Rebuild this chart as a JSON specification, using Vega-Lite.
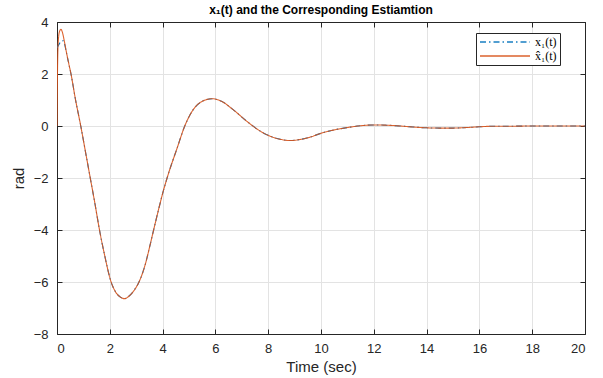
{
  "$schema": "https://vega.github.io/schema/vega-lite/v6.json",
  "autosize": "none",
  "width": 528,
  "height": 312,
  "padding": {"left": 57, "top": 22, "right": 18, "bottom": 44},
  "background": "white",
  "title": {
    "text": "x₁(t) and the Corresponding Estiamtion",
    "font": "Liberation Sans",
    "fontSize": 12,
    "fontWeight": "bold",
    "color": "#000000",
    "offset": -1
  },
  "config": {
    "view": {"stroke": "#262626", "strokeWidth": 1},
    "axis": {
      "domainColor": "#262626",
      "tickColor": "#262626",
      "gridColor": "#e3e3e3",
      "gridOpacity": 1,
      "labelFont": "Liberation Sans",
      "labelFontSize": 13,
      "labelColor": "#262626",
      "titleFont": "Liberation Sans",
      "titleFontSize": 15,
      "titleFontWeight": "normal",
      "titleColor": "#262626",
      "tickSize": -5
    }
  },
  "data": {
    "values": [
      {"t": 0, "v": 3.0, "s": "x₁(t)"},
      {"t": 0.08, "v": 3.15, "s": "x₁(t)"},
      {"t": 0.16, "v": 3.25, "s": "x₁(t)"},
      {"t": 0.24, "v": 3.28, "s": "x₁(t)"},
      {"t": 0.3, "v": 3.1, "s": "x₁(t)"},
      {"t": 0.36, "v": 2.8, "s": "x₁(t)"},
      {"t": 0.45, "v": 2.38, "s": "x₁(t)"},
      {"t": 0.53, "v": 2.0, "s": "x₁(t)"},
      {"t": 0.7, "v": 1.02, "s": "x₁(t)"},
      {"t": 0.9, "v": 0, "s": "x₁(t)"},
      {"t": 1.08, "v": -1.0, "s": "x₁(t)"},
      {"t": 1.26, "v": -2.0, "s": "x₁(t)"},
      {"t": 1.44, "v": -3.0, "s": "x₁(t)"},
      {"t": 1.61, "v": -4.0, "s": "x₁(t)"},
      {"t": 1.8, "v": -4.95, "s": "x₁(t)"},
      {"t": 2.05, "v": -6.0, "s": "x₁(t)"},
      {"t": 2.2, "v": -6.35, "s": "x₁(t)"},
      {"t": 2.4, "v": -6.58, "s": "x₁(t)"},
      {"t": 2.56, "v": -6.64, "s": "x₁(t)"},
      {"t": 2.72, "v": -6.55, "s": "x₁(t)"},
      {"t": 2.9, "v": -6.35, "s": "x₁(t)"},
      {"t": 3.15, "v": -5.9, "s": "x₁(t)"},
      {"t": 3.35, "v": -5.3, "s": "x₁(t)"},
      {"t": 3.52, "v": -4.6, "s": "x₁(t)"},
      {"t": 3.66, "v": -4.0, "s": "x₁(t)"},
      {"t": 3.85, "v": -3.2, "s": "x₁(t)"},
      {"t": 4.0, "v": -2.6, "s": "x₁(t)"},
      {"t": 4.17, "v": -2.0, "s": "x₁(t)"},
      {"t": 4.55, "v": -0.85, "s": "x₁(t)"},
      {"t": 4.84, "v": 0, "s": "x₁(t)"},
      {"t": 5.16, "v": 0.63, "s": "x₁(t)"},
      {"t": 5.54, "v": 0.97, "s": "x₁(t)"},
      {"t": 5.88, "v": 1.05, "s": "x₁(t)"},
      {"t": 6.23, "v": 0.95, "s": "x₁(t)"},
      {"t": 6.67, "v": 0.63, "s": "x₁(t)"},
      {"t": 7.18, "v": 0.19, "s": "x₁(t)"},
      {"t": 7.69, "v": -0.19, "s": "x₁(t)"},
      {"t": 8.0, "v": -0.36, "s": "x₁(t)"},
      {"t": 8.5, "v": -0.52, "s": "x₁(t)"},
      {"t": 8.82, "v": -0.56, "s": "x₁(t)"},
      {"t": 9.2, "v": -0.52, "s": "x₁(t)"},
      {"t": 9.58, "v": -0.43, "s": "x₁(t)"},
      {"t": 10, "v": -0.28, "s": "x₁(t)"},
      {"t": 10.5, "v": -0.15, "s": "x₁(t)"},
      {"t": 11, "v": -0.06, "s": "x₁(t)"},
      {"t": 11.5, "v": 0.01, "s": "x₁(t)"},
      {"t": 12, "v": 0.04, "s": "x₁(t)"},
      {"t": 12.5, "v": 0.03, "s": "x₁(t)"},
      {"t": 13, "v": 0, "s": "x₁(t)"},
      {"t": 13.5, "v": -0.04, "s": "x₁(t)"},
      {"t": 14, "v": -0.07, "s": "x₁(t)"},
      {"t": 14.5, "v": -0.08, "s": "x₁(t)"},
      {"t": 15, "v": -0.08, "s": "x₁(t)"},
      {"t": 15.5, "v": -0.06, "s": "x₁(t)"},
      {"t": 16, "v": -0.03, "s": "x₁(t)"},
      {"t": 16.5, "v": -0.01, "s": "x₁(t)"},
      {"t": 17, "v": -0.01, "s": "x₁(t)"},
      {"t": 18, "v": 0, "s": "x₁(t)"},
      {"t": 19, "v": 0, "s": "x₁(t)"},
      {"t": 20, "v": 0, "s": "x₁(t)"},

      {"t": 0, "v": 0, "s": "x̂₁(t)"},
      {"t": 0.02, "v": 2.2, "s": "x̂₁(t)"},
      {"t": 0.05, "v": 3.3, "s": "x̂₁(t)"},
      {"t": 0.1, "v": 3.65, "s": "x̂₁(t)"},
      {"t": 0.15, "v": 3.72, "s": "x̂₁(t)"},
      {"t": 0.2, "v": 3.62, "s": "x̂₁(t)"},
      {"t": 0.28, "v": 3.25, "s": "x̂₁(t)"},
      {"t": 0.36, "v": 2.82, "s": "x̂₁(t)"},
      {"t": 0.45, "v": 2.38, "s": "x̂₁(t)"},
      {"t": 0.53, "v": 2.0, "s": "x̂₁(t)"},
      {"t": 0.7, "v": 1.02, "s": "x̂₁(t)"},
      {"t": 0.9, "v": 0, "s": "x̂₁(t)"},
      {"t": 1.08, "v": -1.0, "s": "x̂₁(t)"},
      {"t": 1.26, "v": -2.0, "s": "x̂₁(t)"},
      {"t": 1.44, "v": -3.0, "s": "x̂₁(t)"},
      {"t": 1.61, "v": -4.0, "s": "x̂₁(t)"},
      {"t": 1.8, "v": -4.95, "s": "x̂₁(t)"},
      {"t": 2.05, "v": -6.0, "s": "x̂₁(t)"},
      {"t": 2.2, "v": -6.35, "s": "x̂₁(t)"},
      {"t": 2.4, "v": -6.58, "s": "x̂₁(t)"},
      {"t": 2.56, "v": -6.64, "s": "x̂₁(t)"},
      {"t": 2.72, "v": -6.55, "s": "x̂₁(t)"},
      {"t": 2.9, "v": -6.35, "s": "x̂₁(t)"},
      {"t": 3.15, "v": -5.9, "s": "x̂₁(t)"},
      {"t": 3.35, "v": -5.3, "s": "x̂₁(t)"},
      {"t": 3.52, "v": -4.6, "s": "x̂₁(t)"},
      {"t": 3.66, "v": -4.0, "s": "x̂₁(t)"},
      {"t": 3.85, "v": -3.2, "s": "x̂₁(t)"},
      {"t": 4.0, "v": -2.6, "s": "x̂₁(t)"},
      {"t": 4.17, "v": -2.0, "s": "x̂₁(t)"},
      {"t": 4.55, "v": -0.85, "s": "x̂₁(t)"},
      {"t": 4.84, "v": 0, "s": "x̂₁(t)"},
      {"t": 5.16, "v": 0.63, "s": "x̂₁(t)"},
      {"t": 5.54, "v": 0.97, "s": "x̂₁(t)"},
      {"t": 5.88, "v": 1.05, "s": "x̂₁(t)"},
      {"t": 6.23, "v": 0.95, "s": "x̂₁(t)"},
      {"t": 6.67, "v": 0.63, "s": "x̂₁(t)"},
      {"t": 7.18, "v": 0.19, "s": "x̂₁(t)"},
      {"t": 7.69, "v": -0.19, "s": "x̂₁(t)"},
      {"t": 8.0, "v": -0.36, "s": "x̂₁(t)"},
      {"t": 8.5, "v": -0.52, "s": "x̂₁(t)"},
      {"t": 8.82, "v": -0.56, "s": "x̂₁(t)"},
      {"t": 9.2, "v": -0.52, "s": "x̂₁(t)"},
      {"t": 9.58, "v": -0.43, "s": "x̂₁(t)"},
      {"t": 10, "v": -0.28, "s": "x̂₁(t)"},
      {"t": 10.5, "v": -0.15, "s": "x̂₁(t)"},
      {"t": 11, "v": -0.06, "s": "x̂₁(t)"},
      {"t": 11.5, "v": 0.01, "s": "x̂₁(t)"},
      {"t": 12, "v": 0.04, "s": "x̂₁(t)"},
      {"t": 12.5, "v": 0.03, "s": "x̂₁(t)"},
      {"t": 13, "v": 0, "s": "x̂₁(t)"},
      {"t": 13.5, "v": -0.04, "s": "x̂₁(t)"},
      {"t": 14, "v": -0.07, "s": "x̂₁(t)"},
      {"t": 14.5, "v": -0.08, "s": "x̂₁(t)"},
      {"t": 15, "v": -0.08, "s": "x̂₁(t)"},
      {"t": 15.5, "v": -0.06, "s": "x̂₁(t)"},
      {"t": 16, "v": -0.03, "s": "x̂₁(t)"},
      {"t": 16.5, "v": -0.01, "s": "x̂₁(t)"},
      {"t": 17, "v": -0.01, "s": "x̂₁(t)"},
      {"t": 18, "v": 0, "s": "x̂₁(t)"},
      {"t": 19, "v": 0, "s": "x̂₁(t)"},
      {"t": 20, "v": 0, "s": "x̂₁(t)"}
    ]
  },
  "layer": [
    {
      "transform": [{"filter": "datum.s === 'x₁(t)'"}],
      "mark": {"type": "line", "strokeWidth": 1.1, "interpolate": "monotone", "clip": true},
      "encoding": {
        "x": {
          "field": "t", "type": "quantitative",
          "scale": {"domain": [0, 20], "nice": false, "zero": false},
          "axis": {"values": [0, 2, 4, 6, 8, 10, 12, 14, 16, 18, 20], "title": "Time (sec)", "titlePadding": 4, "labelPadding": 13}
        },
        "y": {
          "field": "v", "type": "quantitative",
          "scale": {"domain": [-8, 4], "nice": false, "zero": false},
          "axis": {"values": [-8, -6, -4, -2, 0, 2, 4], "title": "rad", "titlePadding": 7, "labelPadding": 14}
        },
        "color": {
          "field": "s", "type": "nominal",
          "scale": {"domain": ["x₁(t)", "x̂₁(t)"], "range": ["#0072BD", "#D95319"]},
          "legend": {
            "title": null,
            "orient": "none",
            "legendX": 419,
            "legendY": 11,
            "strokeColor": "#262626",
            "fillColor": "white",
            "padding": 3,
            "symbolType": "M-1,0H9",
            "symbolSize": 100,
            "symbolStrokeWidth": 1.3,
            "labelOffset": 44,
            "labelFont": "Liberation Serif",
            "labelFontSize": 12,
            "labelColor": "#000000",
            "rowPadding": 2,
            "cornerRadius": 0
          }
        },
        "strokeDash": {
          "field": "s", "type": "nominal",
          "scale": {"domain": ["x₁(t)", "x̂₁(t)"], "range": [[6, 3, 1.5, 3], [1, 0]]}
        }
      }
    },
    {
      "transform": [{"filter": "datum.s === 'x̂₁(t)'"}],
      "mark": {"type": "line", "strokeWidth": 1.1, "interpolate": "monotone", "clip": true, "opacity": 0.9},
      "encoding": {
        "x": {
          "field": "t", "type": "quantitative",
          "axis": {"orient": "top", "values": [0, 2, 4, 6, 8, 10, 12, 14, 16, 18, 20], "labels": false, "title": null, "grid": false}
        },
        "y": {
          "field": "v", "type": "quantitative",
          "axis": {"orient": "right", "values": [-8, -6, -4, -2, 0, 2, 4], "labels": false, "title": null, "grid": false}
        },
        "color": {"field": "s", "type": "nominal"},
        "strokeDash": {"field": "s", "type": "nominal"}
      }
    }
  ],
  "resolve": {"axis": {"x": "independent", "y": "independent"}}
}
